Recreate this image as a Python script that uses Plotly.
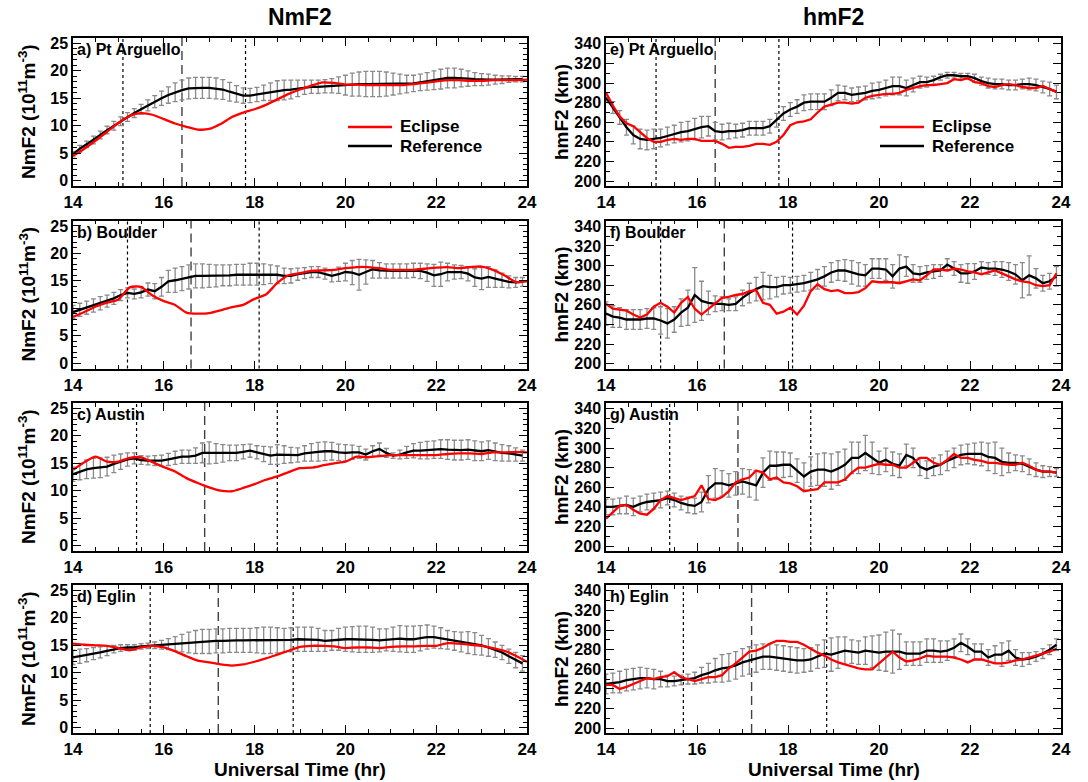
import plotly.graph_objects as go

# ---------------- data ----------------
hours_ref = [round(14 + 0.15 * i, 2) for i in range(67)]      # reference / hmF2 eclipse time grid
hours_nm = [round(14 + 0.25 * i, 2) for i in range(41)]       # NmF2 eclipse time grid

stations = ["Pt Arguello", "Boulder", "Austin", "Eglin"]
first_contact = [15.1, 15.2, 15.4, 15.7]
max_eclipse = [16.4, 16.6, 16.9, 17.2]
last_contact = [17.8, 18.1, 18.5, 18.85]

# NmF2 reference (1e11 m^-3) and std
ref_a = [4.8, 5.8, 6.6, 7.4, 8.3, 9.2, 10.0, 10.8, 11.6, 12.3,
         13.0, 13.7, 14.4, 15.0, 15.6, 16.1, 16.5, 16.8, 16.9, 16.9,
         16.9, 16.8, 16.6, 16.2, 15.8, 15.5, 15.5, 15.7, 16.0, 16.2,
         16.4, 16.5, 16.6, 16.8, 17.0, 17.1, 17.1, 17.2, 17.3, 17.4,
         17.4, 17.5, 17.6, 17.6, 17.6, 17.6, 17.6, 17.6, 17.6, 17.6,
         17.7, 17.9, 18.1, 18.3, 18.5, 18.7, 18.7, 18.7, 18.6, 18.5,
         18.4, 18.4, 18.4, 18.4, 18.5, 18.5, 18.5]
err_a = [0.5, 0.6, 0.6, 0.7, 0.7, 0.7, 0.8, 0.8, 0.8, 0.8,
         0.9, 1.0, 1.1, 1.3, 1.5, 1.7, 1.8, 1.9, 1.9, 1.9,
         1.9, 1.9, 1.8, 1.7, 1.5, 1.4, 1.3, 1.3, 1.4, 1.6,
         1.8, 1.8, 1.7, 1.5, 1.3, 1.2, 1.2, 1.2, 1.3, 1.5,
         1.8, 2.1, 2.2, 2.3, 2.3, 2.3, 2.2, 2.0, 1.8, 1.6,
         1.5, 1.5, 1.6, 1.7, 1.8, 1.8, 1.8, 1.6, 1.4, 1.2,
         1.1, 1.0, 0.8, 0.7, 0.6, 0.5, 0.5]
ecl_a = [4.5, 5.8, 7.3, 8.9, 10.5, 11.8, 12.3, 12.0, 11.2, 10.4,
         9.8, 9.3, 9.4, 10.3, 11.6, 12.4, 13.0, 13.8, 14.8, 15.8,
         16.6, 17.3, 17.9, 17.8, 17.5, 17.5, 17.4, 17.4, 17.4, 17.4,
         17.6, 17.8, 18.1, 18.3, 18.3, 18.2, 18.2, 18.3, 18.3, 18.3,
         18.4]

ref_b = [9.3, 9.7, 10.1, 10.5, 10.9, 11.3, 11.8, 12.4, 12.8, 12.6,
         12.9, 13.4, 13.1, 13.9, 14.9, 15.1, 15.4, 15.7, 15.9, 15.9,
         15.9, 15.9, 16.0, 16.0, 16.1, 16.1, 16.2, 16.2, 16.2, 16.2,
         16.1, 15.9, 15.9, 16.2, 16.4, 16.6, 16.6, 16.3, 15.9, 16.2,
         16.6, 16.5, 16.1, 16.6, 17.1, 16.9, 16.8, 16.8, 16.8, 16.8,
         16.9, 16.8, 16.5, 16.0, 16.2, 16.6, 16.6, 16.6, 16.3, 15.6,
         15.4, 15.7, 15.4, 15.1, 14.8, 14.7, 14.8]
err_b = [1.2, 1.2, 1.2, 1.2, 1.2, 1.1, 1.1, 1.0, 0.9, 0.9,
         1.0, 1.2, 1.4, 1.7, 2.0, 2.2, 2.2, 2.2, 2.2, 2.2,
         2.1, 2.0, 1.9, 1.9, 1.9, 1.9, 2.0, 2.0, 1.9, 1.7,
         1.6, 1.4, 1.3, 1.1, 1.0, 1.0, 1.0, 1.0, 1.1, 1.3,
         1.6, 2.2, 2.8, 2.2, 1.6, 1.4, 1.3, 1.3, 1.3, 1.3,
         1.3, 1.4, 1.6, 2.0, 2.2, 1.6, 1.3, 1.2, 1.3, 1.6,
         2.0, 1.9, 1.6, 1.3, 1.1, 0.9, 0.8]
ecl_b = [8.4, 9.3, 10.3, 11.0, 11.6, 13.8, 13.9, 12.3, 11.3, 10.6,
         9.2, 9.0, 9.1, 9.6, 10.2, 10.6, 11.7, 12.5, 14.6, 16.0,
         16.4, 16.8, 16.9, 17.0, 17.3, 17.5, 17.5, 17.3, 17.0, 17.0,
         17.0, 17.2, 17.4, 17.5, 17.3, 17.5, 17.6, 17.0, 16.0, 14.8,
         14.9]

ref_c = [13.0, 13.5, 13.9, 14.1, 14.2, 14.4, 14.9, 15.3, 15.7, 15.9,
         15.6, 15.5, 15.5, 15.5, 15.7, 16.0, 16.2, 16.2, 16.4, 16.9,
         16.9, 16.8, 16.8, 16.9, 16.9, 17.1, 17.3, 17.0, 16.7, 16.4,
         16.6, 16.6, 16.5, 16.5, 16.8, 17.0, 17.1, 17.2, 17.2, 17.0,
         16.9, 17.0, 17.0, 16.6, 17.2, 17.6, 16.9, 16.4, 16.6, 17.0,
         17.3, 17.3, 17.4, 17.5, 17.6, 17.5, 17.4, 17.4, 17.5, 17.3,
         17.2, 17.4, 17.1, 16.9, 16.8, 16.6, 16.4]
err_c = [1.3, 1.5, 1.7, 1.8, 1.8, 1.7, 1.6, 1.4, 1.2, 1.0,
         0.8, 0.8, 0.9, 1.0, 1.1, 1.2, 1.2, 1.2, 1.4, 1.8,
         2.0, 1.8, 1.6, 1.4, 1.4, 1.3, 1.2, 1.2, 1.4, 1.6,
         1.8, 1.6, 1.4, 1.3, 1.4, 1.6, 1.7, 1.7, 1.6, 1.5,
         1.5, 1.3, 1.1, 1.0, 1.0, 1.1, 0.8, 0.5, 0.8, 1.1,
         1.3, 1.5, 1.6, 1.6, 1.7, 1.8, 1.8, 1.8, 1.8, 1.8,
         1.7, 1.7, 1.6, 1.5, 1.4, 1.2, 1.0]
ecl_c = [13.8, 15.2, 16.2, 15.3, 15.3, 16.0, 16.1, 15.2, 14.3, 13.5,
         12.3, 11.4, 10.6, 10.0, 9.9, 10.5, 11.2, 12.0, 12.6, 13.4,
         14.1, 14.2, 14.6, 15.0, 15.3, 16.2, 16.1, 16.3, 16.5, 16.5,
         16.5, 16.5, 16.5, 16.7, 16.8, 16.8, 16.7, 17.0, 17.0, 17.1,
         17.0]

ref_d = [12.8, 13.0, 13.2, 13.5, 13.7, 14.0, 14.3, 14.5, 14.6, 14.6,
         14.8, 14.9, 15.0, 15.1, 15.2, 15.3, 15.4, 15.5, 15.6, 15.7,
         15.7, 15.8, 15.8, 15.9, 15.9, 15.9, 15.9, 15.9, 15.9, 15.9,
         15.9, 15.9, 16.0, 16.1, 16.1, 16.1, 16.0, 15.8, 15.9, 16.1,
         16.1, 16.1, 16.1, 16.1, 16.0, 15.9, 16.0, 16.1, 16.2, 16.1,
         16.1, 16.3, 16.5, 16.5, 16.3, 16.0, 15.8, 15.6, 15.5, 15.3,
         15.0, 14.6, 14.2, 13.7, 13.0, 12.3, 11.7]
err_d = [1.3, 1.3, 1.2, 1.1, 1.0, 0.9, 0.7, 0.6, 0.5, 0.5,
         0.5, 0.5, 0.6, 0.8, 1.0, 1.3, 1.6, 1.9, 2.1, 2.2,
         2.2, 2.2, 2.2, 2.2, 2.2, 2.2, 2.2, 2.3, 2.4, 2.4,
         2.3, 2.2, 2.2, 2.2, 2.2, 2.2, 2.1, 1.9, 1.8, 2.0,
         2.2, 2.3, 2.4, 2.4, 2.3, 2.1, 2.0, 2.2, 2.4, 2.4,
         2.4, 2.3, 2.2, 2.0, 1.9, 1.7, 1.7, 1.8, 2.0, 2.0,
         1.8, 1.6, 1.4, 1.3, 1.3, 1.4, 1.4]
ecl_d = [15.3, 15.1, 15.0, 14.9, 14.5, 14.1, 14.6, 14.9, 14.6, 13.9,
         13.0, 12.2, 11.9, 11.5, 11.3, 11.5, 12.0, 12.6, 13.3, 14.0,
         14.7, 14.9, 14.9, 14.8, 14.5, 14.6, 14.6, 14.5, 14.7, 14.8,
         14.8, 14.9, 14.9, 15.4, 15.3, 15.1, 14.9, 14.5, 14.0, 13.1,
         12.0]

# hmF2 reference (km) and std
ref_e = [285, 275, 265, 255, 247, 243, 242, 243, 244, 246,
         248, 250, 251, 253, 255, 256, 251, 250, 251, 251,
         252, 254, 254, 254, 256, 262, 269, 273, 276, 280,
         281, 281, 281, 285, 290, 290, 288, 289, 290, 292,
         293, 295, 297, 297, 295, 298, 301, 301, 303, 306,
         308, 308, 307, 307, 305, 302, 300, 299, 299, 298,
         298, 299, 299, 298, 296, 294, 291]
err_e = [5, 6, 7, 8, 9, 10, 10, 10, 9, 9,
         9, 10, 10, 11, 11, 10, 9, 8, 8, 7,
         7, 7, 7, 7, 7, 7, 7, 7, 7, 8,
         8, 8, 8, 8, 8, 7, 7, 7, 7, 8,
         8, 8, 9, 9, 8, 7, 6, 5, 4, 3,
         3, 3, 3, 3, 4, 4, 5, 5, 5, 5,
         5, 5, 6, 6, 6, 7, 7]
ecl_e = [290, 277, 266, 259, 256, 250, 244, 240, 240, 242,
         243, 242, 243, 243, 241, 241, 241, 238, 234, 235,
         235, 236, 238, 238, 237, 240, 247, 257, 260, 261,
         263, 270, 276, 278, 280, 280, 279, 280, 285, 287,
         288, 289, 289, 290, 293, 295, 297, 298, 298, 299,
         300, 304, 303, 305, 301, 300, 297, 296, 298, 299,
         298, 296, 295, 295, 297, 294, 291]

ref_f = [251, 248, 247, 245, 245, 245, 246, 246, 244, 241,
         245, 252, 257, 270, 264, 262, 261, 261, 260, 261,
         267, 272, 276, 279, 278, 278, 280, 280, 281, 282,
         284, 286, 289, 293, 295, 295, 293, 291, 290, 297,
         297, 296, 289, 297, 299, 292, 291, 293, 294, 295,
         301, 297, 292, 292, 294, 298, 297, 297, 296, 294,
         291, 285, 290, 287, 282, 284, 289]
err_f = [12, 11, 10, 10, 10, 10, 10, 11, 14, 15,
         13, 14, 18, 28, 20, 12, 8, 7, 6, 7,
         8, 10, 12, 14, 12, 10, 9, 8, 8, 8,
         9, 10, 10, 10, 10, 11, 12, 12, 11, 10,
         10, 11, 12, 14, 10, 9, 8, 7, 7, 6,
         6, 7, 9, 10, 8, 6, 6, 7, 8, 9,
         10, 18, 20, 10, 8, 8, 10]
ecl_f = [261, 256, 255, 254, 250, 247, 250, 258, 262, 258,
         252, 262, 268, 256, 250, 256, 262, 267, 268, 270,
         271, 274, 275, 262, 260, 251, 253, 257, 250, 259,
         274, 281, 276, 274, 275, 272, 272, 273, 277, 284,
         283, 283, 283, 282, 284, 286, 285, 290, 296, 296,
         295, 297, 296, 294, 293, 291, 293, 295, 292, 289,
         286, 284, 283, 280, 279, 280, 292]

ref_g = [240, 240, 241, 242, 240, 243, 245, 246, 247, 249,
         247, 244, 242, 241, 245, 258, 264, 264, 262, 264,
         266, 264, 262, 275, 282, 282, 283, 283, 277, 271,
         276, 278, 278, 276, 279, 283, 290, 290, 295, 290,
         285, 288, 284, 282, 293, 290, 281, 278, 281, 283,
         287, 290, 293, 294, 294, 294, 291, 290, 286, 285,
         285, 284, 281, 278, 276, 276, 275]
err_g = [8, 8, 8, 9, 9, 8, 8, 8, 8, 7,
         7, 7, 8, 8, 10, 14, 15, 13, 12, 12,
         13, 14, 15, 15, 15, 14, 13, 12, 12, 14,
         15, 16, 17, 18, 17, 16, 16, 16, 18, 16,
         12, 12, 12, 12, 11, 10, 9, 9, 9, 10,
         10, 10, 10, 10, 11, 12, 14, 16, 14, 10,
         8, 8, 8, 7, 6, 5, 4]
ecl_g = [228, 234, 241, 242, 237, 233, 232, 238, 247, 251,
         249, 247, 249, 251, 262, 248, 247, 250, 256, 265,
         268, 270, 277, 275, 268, 270, 265, 264, 261, 256,
         257, 258, 265, 265, 265, 268, 275, 280, 280, 282,
         284, 283, 283, 280, 280, 285, 290, 290, 285, 283,
         288, 294, 290, 290, 288, 287, 285, 285, 284, 283,
         283, 285, 282, 278, 276, 276, 275]

ref_h = [245, 246, 247, 249, 250, 251, 251, 250, 250, 248,
         248, 249, 250, 251, 254, 256, 259, 261, 262, 264,
         267, 269, 271, 273, 273, 272, 271, 270, 269, 269,
         270, 273, 276, 275, 277, 279, 278, 277, 279, 278,
         277, 278, 278, 278, 276, 276, 276, 279, 279, 278,
         279, 282, 287, 283, 278, 278, 272, 275, 275, 279,
         272, 270, 271, 273, 276, 280, 285]
err_h = [10, 10, 11, 11, 11, 11, 10, 10, 8, 6,
         5, 5, 5, 6, 8, 10, 12, 14, 14, 14,
         14, 14, 14, 13, 13, 13, 13, 13, 13, 12,
         12, 12, 14, 17, 16, 14, 12, 12, 14, 16,
         18, 20, 22, 18, 12, 12, 12, 12, 12, 11,
         10, 9, 9, 8, 8, 8, 8, 9, 12, 10,
         8, 7, 6, 5, 5, 5, 6]
ecl_h = [244, 244, 240, 242, 245, 248, 251, 250, 252, 253,
         257, 252, 250, 248, 250, 252, 252, 254, 261, 266,
         272, 278, 279, 282, 286, 289, 289, 288, 288, 285,
         281, 277, 274, 270, 267, 265, 263, 261, 260, 260,
         266, 272, 278, 272, 268, 269, 271, 274, 273, 273,
         273, 272, 270, 267, 270, 270, 268, 266, 266, 267,
         269, 270, 272, 274, 276, 278, 281]

x_ticks = [14, 16, 18, 20, 22, 24]
nm_ticks = [0, 5, 10, 15, 20, 25]
hm_ticks = [200, 220, 240, 260, 280, 300, 320, 340]
legend_labels = ["Eclipse", "Reference"]
legend_colors = ["#ff0000", "black"]

# ---------------- layout helpers ----------------
W, H = 1088, 782
FONT = "Liberation Sans"
col_px = [(73, 527), (606, 1061)]
row_px = [(38, 186), (220.5, 368.5), (403, 551), (585, 733)]

letters = "abcdefgh"
nm_sets = [(ref_a, err_a, ecl_a), (ref_b, err_b, ecl_b), (ref_c, err_c, ecl_c), (ref_d, err_d, ecl_d)]
hm_sets = [(ref_e, err_e, ecl_e), (ref_f, err_f, ecl_f), (ref_g, err_g, ecl_g), (ref_h, err_h, ecl_h)]

fig = go.Figure()
layout = {}
shapes = []
annotations = []

for col in range(2):
    for row in range(4):
        k = col * 4 + row + 1
        xn = "x" if k == 1 else f"x{k}"
        yn = "y" if k == 1 else f"y{k}"
        xl = "xaxis" if k == 1 else f"xaxis{k}"
        yl = "yaxis" if k == 1 else f"yaxis{k}"
        ref, err, ecl = (nm_sets if col == 0 else hm_sets)[row]
        ecl_x = hours_nm if col == 0 else hours_ref

        fig.add_trace(go.Scatter(
            x=hours_ref, y=ref, mode="markers", xaxis=xn, yaxis=yn,
            marker=dict(size=2, color="rgba(0,0,0,0)"),
            error_y=dict(type="data", array=err, visible=True, color="#8a8a8a",
                         thickness=1.3, width=2.5),
            showlegend=False, hoverinfo="skip"))
        fig.add_trace(go.Scatter(
            x=hours_ref, y=ref, mode="lines", xaxis=xn, yaxis=yn,
            line=dict(color="black", width=2.3), name="Reference", showlegend=False))
        fig.add_trace(go.Scatter(
            x=ecl_x, y=ecl, mode="lines", xaxis=xn, yaxis=yn,
            line=dict(color="#ff0000", width=2.3,
                      shape="spline" if col == 0 else "linear", smoothing=0.6),
            name="Eclipse", showlegend=False))

        x0, x1 = col_px[col]
        t0, t1 = row_px[row]
        tickfont_x = dict(family=FONT, size=17, color="black", weight="bold")
        tickfont_y = dict(family=FONT, size=16, color="black", weight="bold")
        layout[xl] = dict(
            domain=[x0 / W, x1 / W], anchor=yn, range=[14, 24], automargin=False,
            tickvals=x_ticks, ticks="inside", ticklen=8, tickwidth=1.2, tickcolor="black",
            minor=dict(dtick=0.5, tick0=14, ticks="inside", ticklen=4, tickwidth=1, tickcolor="black"),
            showline=True, linecolor="black", linewidth=1.5, mirror="allticks",
            showgrid=False, zeroline=False, tickfont=tickfont_x)
        if col == 0:
            yr, yt, ymin = [-1, 26], nm_ticks, 1
        else:
            yr, yt, ymin = [195, 346], hm_ticks, 10
        layout[yl] = dict(
            domain=[1 - t1 / H, 1 - t0 / H], anchor=xn, range=yr, automargin=False,
            tickvals=yt, ticks="inside", ticklen=8, tickwidth=1.2, tickcolor="black",
            minor=dict(dtick=ymin, tick0=0, ticks="inside", ticklen=4, tickwidth=1, tickcolor="black"),
            showline=True, linecolor="black", linewidth=1.5, mirror="allticks",
            showgrid=False, zeroline=False, tickfont=tickfont_y)

        for tv, dash, colr, wd in [(first_contact[row], "dot", "black", 1.2),
                                   (max_eclipse[row], "9px,5px", "#404040", 1.4),
                                   (last_contact[row], "dot", "black", 1.2)]:
            shapes.append(dict(type="line", xref=xn, yref=f"{yn} domain",
                               x0=tv, x1=tv, y0=0, y1=1,
                               line=dict(color=colr, width=wd, dash=dash), layer="below"))

        annotations.append(dict(
            text=f"{letters[k - 1]}) {stations[row]}", xref=f"{xn} domain", yref=f"{yn} domain",
            x=0.004, y=0.99, xanchor="left", yanchor="top", showarrow=False,
            font=dict(family=FONT, size=16, color="black", weight="bold")))

        ytitle = "NmF2 (10<sup>11</sup>m<sup>-3</sup>)" if col == 0 else "hmF2 (km)"
        annotations.append(dict(
            text=ytitle, xref="paper", yref="paper",
            x=(27 if col == 0 else 561) / W, y=1 - (t0 + t1) / 2 / H,
            xanchor="center", yanchor="middle", textangle=-90, showarrow=False,
            font=dict(family=FONT, size=19, color="black", weight="bold")))

    # legend drawn in the top panel of each column
    lx0 = [348, 880][col]
    for j, (lab, lc) in enumerate(zip(legend_labels, legend_colors)):
        ly = [127, 146][j]
        shapes.append(dict(type="line", xref="paper", yref="paper",
                           x0=lx0 / W, x1=(lx0 + 44) / W, y0=1 - ly / H, y1=1 - ly / H,
                           line=dict(color=lc, width=2.5)))
        annotations.append(dict(text=lab, xref="paper", yref="paper",
                                x=(lx0 + 50) / W, y=1 - ly / H, xanchor="left", yanchor="middle",
                                showarrow=False,
                                font=dict(family=FONT, size=17, color="black", weight="bold")))

for col, title in enumerate(["NmF2", "hmF2"]):
    cx = (col_px[col][0] + col_px[col][1]) / 2 / W
    annotations.append(dict(text=title, xref="paper", yref="paper", x=cx, y=1 - 17 / H,
                            xanchor="center", yanchor="middle", showarrow=False,
                            font=dict(family=FONT, size=23, color="black", weight="bold")))
    annotations.append(dict(text="Universal Time (hr)", xref="paper", yref="paper", x=cx,
                            y=1 - 769 / H, xanchor="center", yanchor="middle", showarrow=False,
                            font=dict(family=FONT, size=19, color="black", weight="bold")))

fig.update_layout(
    width=W, height=H, autosize=False, margin=dict(l=0, r=0, t=0, b=0, autoexpand=False),
    paper_bgcolor="white", plot_bgcolor="white", showlegend=False,
    shapes=shapes, annotations=annotations,
    **layout)

fig.write_html("out.html", config={"responsive": False, "displayModeBar": False},
               post_script="document.body.style.margin='0';document.body.style.overflow='hidden';")
